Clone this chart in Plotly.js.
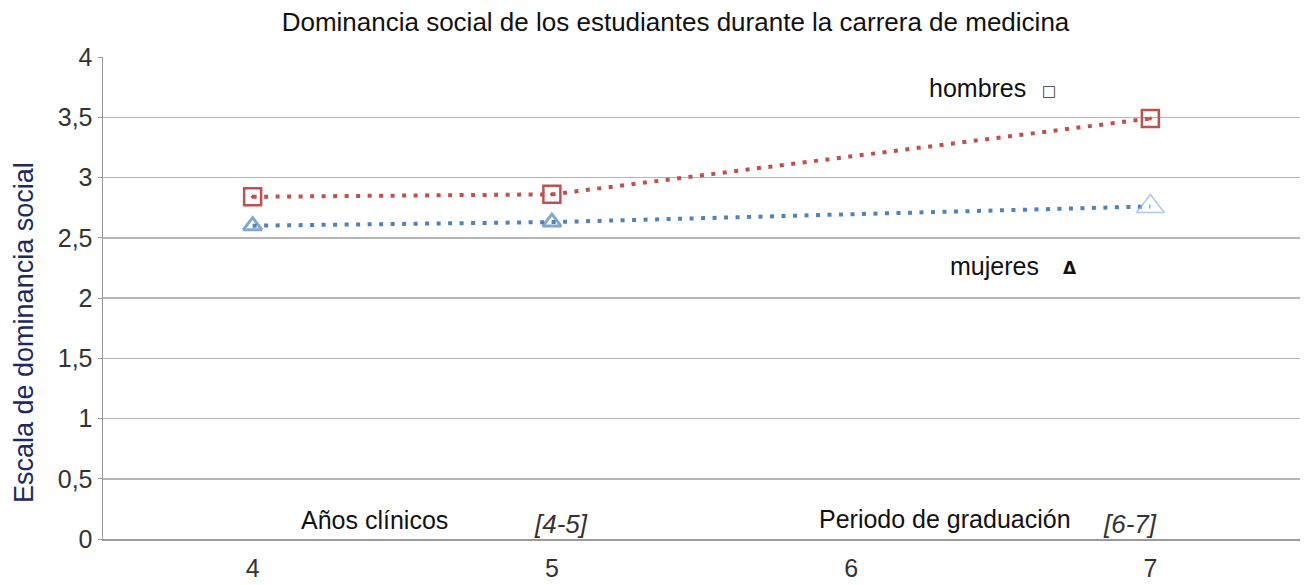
<!DOCTYPE html>
<html>
<head>
<meta charset="utf-8">
<script src="https://cdn.plot.ly/plotly-3.0.1.min.js"></script>
<style>html,body{margin:0;padding:0;background:#fff;}#chart{width:1304px;height:585px;}</style>
</head>
<body>
<div id="chart"></div>
<script>
const years = [4, 5, 7];
const hombres = [2.84, 2.86, 3.49];
const mujeres = [2.60, 2.63, 2.76];
const yTicks = [0, 0.5, 1, 1.5, 2, 2.5, 3, 3.5, 4];
const xTicks = [4, 5, 6, 7];

const red = '#c0504d', blue = '#4f81bd';
const traces = [
  {x: years, y: hombres, mode: 'lines+markers', name: 'hombres',
   line: {color: red, width: 4, dash: '4px,7.5px'},
   marker: {symbol: 'square-open-dot', size: 17, color: red, line: {width: 2.5, color: red}}},
  {x: years, y: mujeres, mode: 'lines+markers', name: 'mujeres',
   line: {color: blue, width: 4, dash: '4px,7.5px'},
   marker: {symbol: 'triangle-up-open', size: [16, 16, 24], color: [blue, blue, '#8fb0dc'],
            line: {width: [3, 3, 1.5], color: [blue, blue, '#8fb0dc']}}}
];

const F = 'Liberation Sans, Arial, sans-serif';
const W = 1304 - 103 - 4;
const H = 585 - 57 - 46;
const py = p => (585 - 46 - p) / H;
function ann(x, ypx, text, size, color, fam) {
  return {xref: 'x', yref: 'paper', x: x, y: py(ypx), text: text, showarrow: false,
          xanchor: 'center', yanchor: 'middle',
          font: {family: fam || F, size: size, color: color}};
}
const layout = {
  width: 1304, height: 585,
  margin: {l: 103, r: 4, t: 57, b: 46},
  paper_bgcolor: '#fff', plot_bgcolor: '#fff',
  separators: ',.',
  showlegend: false,
  font: {family: F, color: '#222'},
  title: {text: 'Dominancia social de los estudiantes durante la carrera de medicina',
          font: {family: F, size: 26, color: '#111'}, x: 0.518, xanchor: 'center', y: 0.962, yanchor: 'middle'},
  xaxis: {range: [3.5, 7.5], tickvals: xTicks, ticktext: xTicks.map(String),
          showgrid: false, zeroline: false, showline: true, linecolor: '#9a9a9a', linewidth: 1.5,
          ticks: 'outside', ticklen: 6, tickcolor: 'rgba(0,0,0,0)',
          tickfont: {family: F, size: 25, color: '#333'}},
  yaxis: {range: [0, 4], tickvals: yTicks, showgrid: true, gridcolor: '#b5b5b5', gridwidth: 1.5,
          zeroline: false, showline: true, linecolor: '#9a9a9a', linewidth: 1.5,
          ticks: 'outside', ticklen: 4, tickcolor: '#9a9a9a',
          tickfont: {family: F, size: 25, color: '#333'}},
  annotations: [
    {xref: 'paper', yref: 'paper', x: (24 - 103) / W, y: py(333), text: 'Escala de dominancia social',
     textangle: -90, showarrow: false, xanchor: 'center', yanchor: 'middle',
     font: {family: F, size: 27, color: '#1c2b5c'}},
    ann(4.407, 520, 'Años clínicos', 25, '#111'),
    ann(5.03, 524, '<i>[4-5]</i>', 26, '#333'),
    ann(6.313, 519, 'Periodo de graduación', 25, '#111'),
    ann(6.933, 524, '<i>[6-7]</i>', 26, '#333'),
    ann(6.423, 88, 'hombres', 25, '#111'),
    ann(6.66, 91, '□', 15, '#333', 'DejaVu Sans'),
    ann(6.48, 266, 'mujeres', 25, '#111'),
    ann(6.73, 268, '<b>Δ</b>', 17, '#111', 'DejaVu Sans')
  ]
};
Plotly.newPlot('chart', traces, layout, {displayModeBar: false, staticPlot: true});
</script>
</body>
</html>
